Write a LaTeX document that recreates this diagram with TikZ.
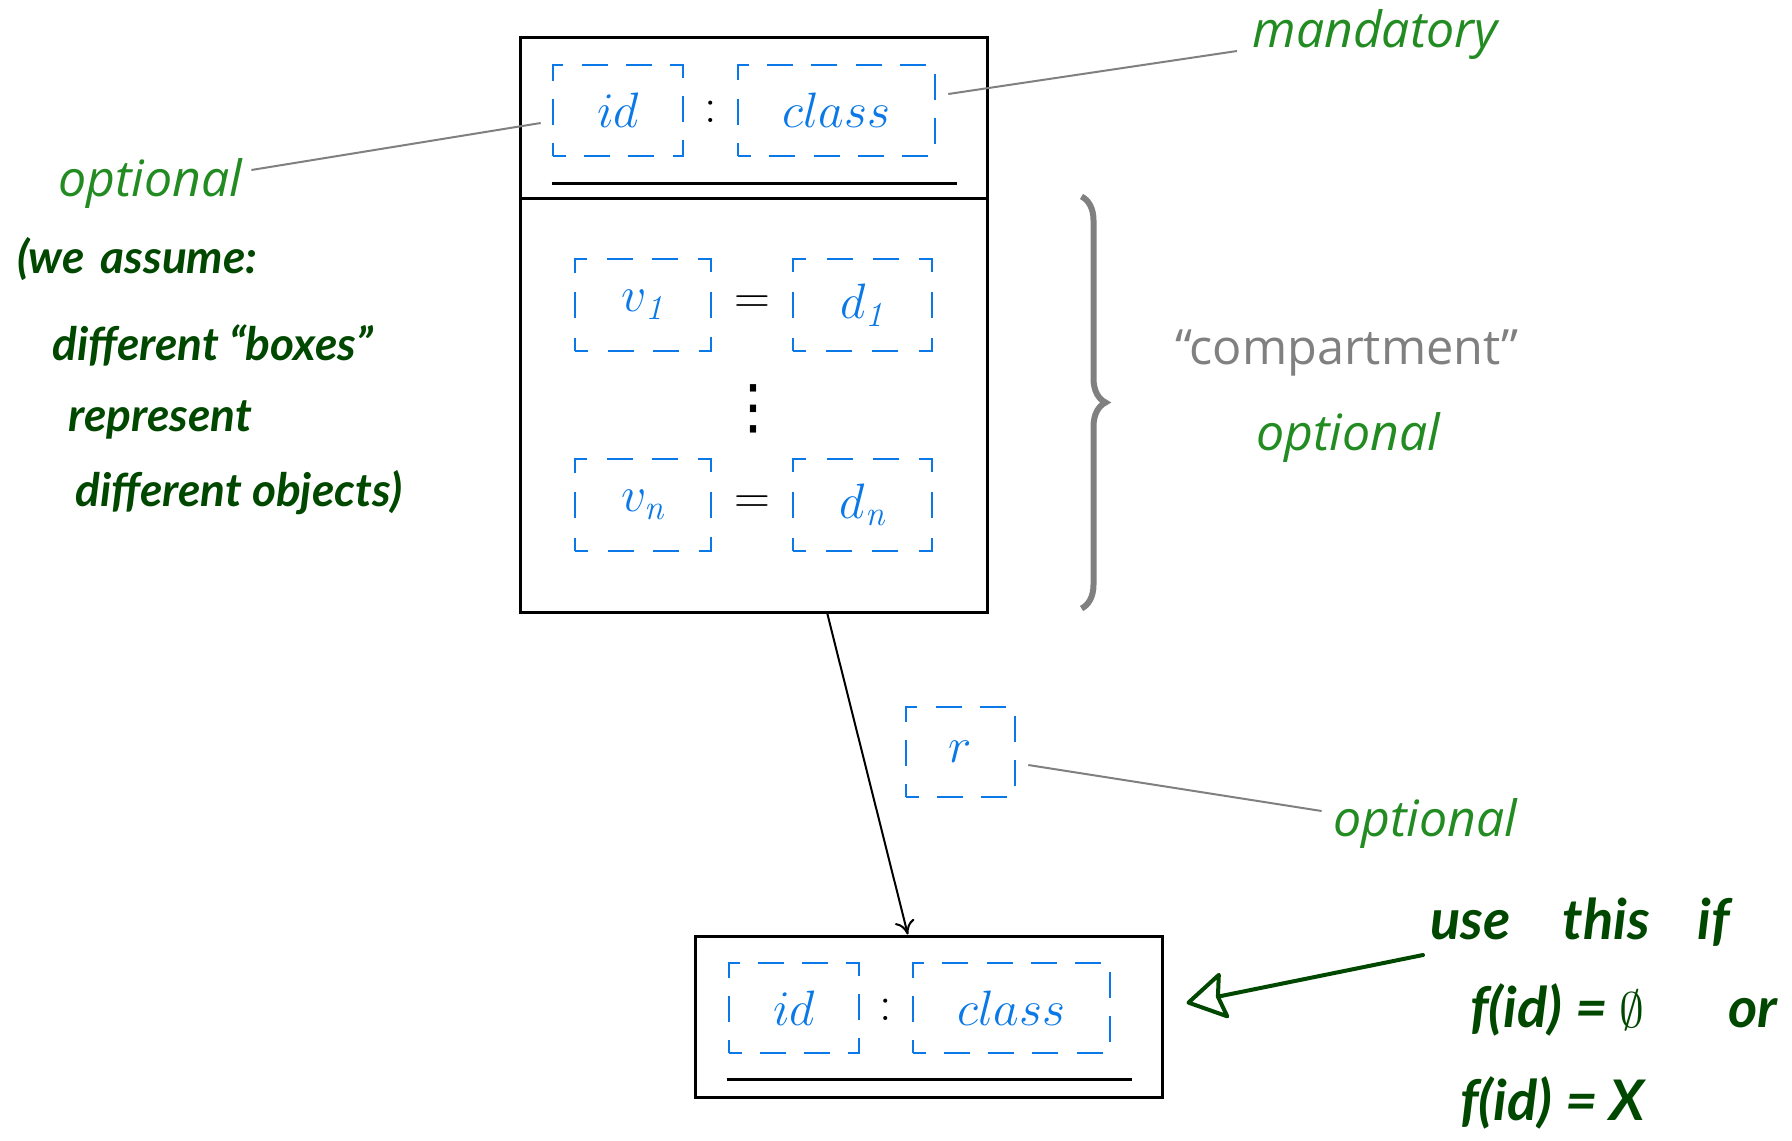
\documentclass[tikz,border=0pt]{standalone}
\usepackage{fontspec}
\setsansfont{Open Sans}
\newfontfamily\handfont{Lato}
\newfontfamily\dotsfont{DejaVu Sans}
\usetikzlibrary{arrows.meta,calc,decorations.pathreplacing}

\definecolor{slotblue}{RGB}{10,120,230}
\definecolor{notegreen}{RGB}{34,139,34}
\definecolor{handgreen}{RGB}{0,72,0}
\definecolor{leadgray}{RGB}{128,128,128}

\newcommand{\mathsize}{\fontsize{25}{30}\selectfont}
\newcommand{\notesize}{\fontsize{25}{30}\selectfont}
\newcommand{\handsize}{\fontsize{23}{28}\selectfont}
\newcommand{\bighandsize}{\fontsize{28}{34}\selectfont}

\tikzset{
  objbox/.style={draw, line width=1.5pt, inner sep=0pt, minimum width=233.5pt},
  slot/.style={draw=slotblue, text=slotblue, line width=1.3pt,
    dash pattern=on 13pt off 9pt, dash phase=6.5pt, dash expand off,
    inner sep=0pt, minimum height=45.5pt, font=\mathsize},
  sym/.style={font=\mathsize, inner sep=0pt},
  note/.style={text=notegreen, font=\sffamily\itshape\notesize, inner sep=0pt},
  leader/.style={draw=leadgray, line width=1pt},
  compbrace/.style={decorate, decoration={brace, amplitude=12pt}, draw=leadgray, line width=3pt},
  hand/.style={text=handgreen, font=\handfont\bfseries\itshape\handsize, inner sep=0pt, anchor=west},
  handline/.style={draw=handgreen, line width=2pt, line cap=round, line join=round},
}

\begin{document}
\begin{tikzpicture}[x=0.5pt, y=-0.5pt]
\useasboundingbox (0,0) rectangle (1792,1140);

% object with its compartment
\node[objbox, minimum height=80.5pt] (head) at (753.5,117.5) {};
\node[objbox, minimum height=207pt] (comp) at (753.5,405) {};
\node[slot, minimum width=65pt] (id1) at (618,110.5) {$id$};
\node[sym] (colon1) at (711,112) {$:$};
\node[slot, minimum width=98.5pt] (cls1) at (836.5,110.5) {$class$};
\draw[line width=1.5pt] ($(head.south west)+(33,-16)$) -- ($(head.south east)+(-32,-16)$);

\foreach \y/\k in {305/1, 505/n}{
  \node[slot, minimum width=68pt, minimum height=46pt] (v\k) at (643,\y) {$v_{\mathit{\k}}$};
  \node[sym] (eq\k) at (752,\y) {$=$};
  \node[slot, minimum width=69.5pt, minimum height=46pt] (d\k) at (862.5,\y) {$d_{\mathit{\k}}$};
}
\node[inner sep=0pt, font=\dotsfont\fontsize{30}{36}\selectfont] (dots) at (753,409) {⋮};

\draw[compbrace] ([xshift=46.5pt]comp.north east) -- ([xshift=46.5pt, yshift=2.5pt]comp.south east);
\node[font=\sffamily\fontsize{24.3}{29}\selectfont, text=leadgray, inner sep=0pt] (compname) at (1347,353) {“compartment”};
\node[note] (optC) at (1348,437) {optional};

% labels
\node[note] (mand) at (1375,35) {mandatory};
\node[note] (optL) at (150,183) {optional};
\draw[leader] ([shift={(12,-16.5)}]cls1.east) -- ([shift={(-15,16)}]mand.west);
\draw[leader] ([shift={(9,-13)}]optL.east) -- ([shift={(-11,12.5)}]id1.west);

% linked object
\node[objbox, minimum height=80.5pt] (tail) at (928.5,1016.5) {};
\node[slot, minimum width=65pt, minimum height=45pt] (id2) at (794,1008) {$id$};
\node[sym] (colon2) at (886,1010) {$:$};
\node[slot, minimum width=98.5pt, minimum height=45pt] (cls2) at (1011.5,1008) {$class$};
\draw[line width=1.5pt] ($(tail.south west)+(33,-19)$) -- ($(tail.south east)+(-32,-19)$);

\node[slot, minimum width=54.5pt, minimum height=45pt] (rs) at (960.5,752) {$r$};
\draw[line width=1pt, -{To[length=7pt, width=10pt]}] ($(comp.south west)!0.657!(comp.south east)$) -- ($(tail.north west)!0.456!(tail.north east)$);
\node[note] (optR) at (1425,823) {optional};
\draw[leader] ([shift={(12,13)}]rs.east) -- ([shift={(-11,-12)}]optR.west);

% handwritten remarks
\foreach \x/\y/\txt [count=\i] in {17/259/{(we\hspace{8pt}assume:}, 52/345/{different “boxes”}, 68/420/{represent}, 75/493/{different objects)}}
  \node[hand] (remark\i) at (\x,\y) {\txt};

\node[hand, font=\handfont\bfseries\itshape\bighandsize] (use) at (1430,922) {use\hspace{26pt}this\hspace{24pt}if};
\node[hand, font=\handfont\bfseries\itshape\bighandsize] (cond1) at (1470,1010) {f(id) = $\emptyset$\hspace{42pt}or};
\node[hand, font=\handfont\bfseries\itshape\bighandsize] (cond2) at (1460,1103) {f(id) = X};
\coordinate (handstart) at (1423,955);
\draw[handline, -{Stealth[open, length=21pt, width=25pt, inset=3pt, round]}] (handstart) -- ([shift={(23,-13.5)}]tail.east);
\end{tikzpicture}
\end{document}
